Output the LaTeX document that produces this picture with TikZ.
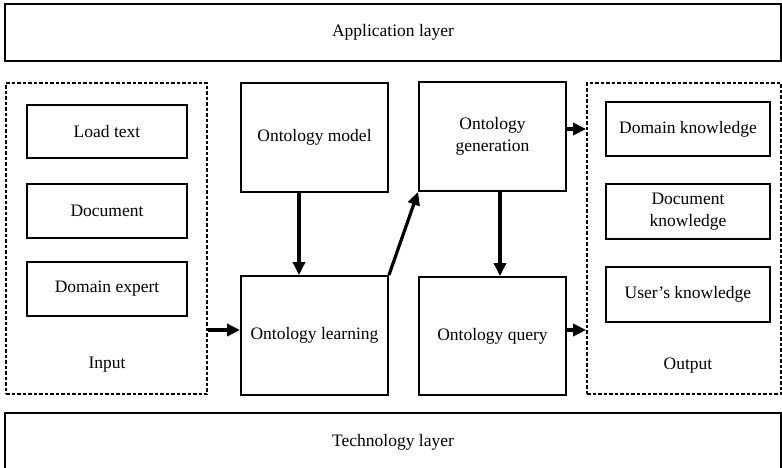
\documentclass[tikz,border=0pt]{standalone}
\usepackage{fontspec}
\setmainfont{Liberation Serif}
\usetikzlibrary{arrows.meta}
\usetikzlibrary{positioning}

\begin{document}
\begin{tikzpicture}[x=1pt, y=-1pt,
		every node/.style={font=\fontsize{17.5}{22.5}\selectfont, align=center, inner sep=0pt},
		blk/.style={draw, line width=1.9pt, rectangle},
		frame/.style={draw, line width=1.7pt, dash pattern=on 3.5pt off 2pt, rectangle},
		flow/.style={line width=3.2pt, -{Triangle[length=13pt, width=12pt]}}]
	\useasboundingbox (0,0) rectangle (782,467);

	% layers
	\node[blk, minimum width=776pt, minimum height=57pt] (app) at (393,32.5) {Application layer};
	\node[blk, minimum width=776pt, minimum height=59pt] (tech) at (393,442.5) {Technology layer};

	% input side
	\node[frame, minimum width=201pt, minimum height=311pt] (inframe) at (106.5,238.5) {};
	\node[blk, minimum width=160pt, minimum height=53pt] (load) at (107,131.5) {Load text};
	\node[blk, minimum width=160pt, minimum height=54pt] (doc) at (107,211) {Document};
	\node[blk, minimum width=160pt, minimum height=54pt] (expert) at (107,289) {Domain expert};
	\node (inlbl) at (107,365) {Input};

	% ontology blocks
	\node[blk, minimum width=147pt, minimum height=109pt] (model) at (314.5,137.5) {Ontology model};
	\node[blk, minimum width=147pt, minimum height=119pt] (learn) at (314.5,335.5) {Ontology learning};
	\node[blk, minimum width=147pt, minimum height=109pt] (gen) at (492.5,136.5) {Ontology\\generation};
	\node[blk, minimum width=147pt, minimum height=118pt] (query) at (492.5,336) {Ontology query};

	% output side
	\node[frame, minimum width=194pt, minimum height=311pt] (outframe) at (684,238.5) {};
	\node[blk, minimum width=164pt, minimum height=54pt] (domk) at (688,129) {Domain knowledge};
	\node[blk, minimum width=164pt, minimum height=55pt] (dock) at (688,211.5) {Document\\knowledge};
	\node[blk, minimum width=164pt, minimum height=55pt] (userk) at (688,294.5) {User’s knowledge};
	\node (outlbl) at (688,366) {Output};

	% connections
	\draw[flow] ([yshift=5.5pt]learn.west -| inframe.east) -- ([yshift=5.5pt]learn.west);
	\draw[flow] ([xshift=-15.5pt]model.south) -- ([xshift=-15.5pt]learn.north);
	\draw[flow] (learn.north east) -- (gen.south west);
	\draw[flow] ([xshift=7.5pt]gen.south) -- ([xshift=7.5pt]query.north);
	\draw[flow] ([yshift=7.5pt]gen.east) -- ([yshift=7.5pt]gen.east -| outframe.west);
	\draw[flow] ([yshift=6pt]query.east) -- ([yshift=6pt]query.east -| outframe.west);
\end{tikzpicture}
\end{document}
